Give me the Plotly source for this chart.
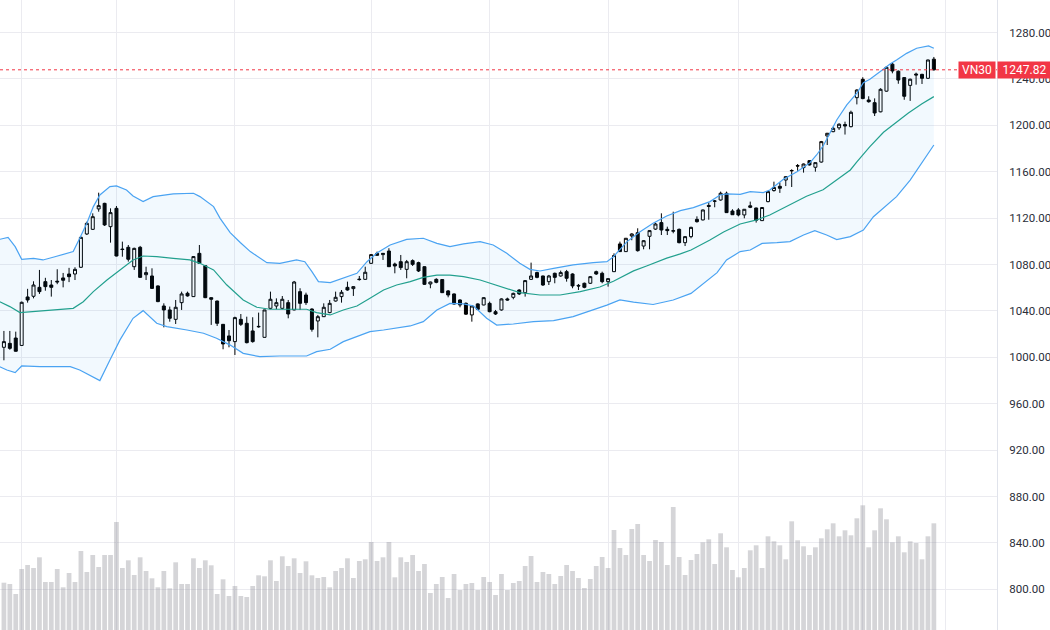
import plotly.graph_objects as go

# ---------------- data ----------------
opens = [1008.6, 1012.0, 1016.6, 1010.2, 1052.0, 1052.6, 1060.3, 1065.2, 1062.3, 1065.6,
         1068.4, 1071.8, 1071.8, 1077.6, 1106.3, 1110.3, 1127.9, 1132.7, 1112.6, 1128.4,
         1093.3, 1094.8, 1078.1, 1094.8, 1071.2, 1070.1, 1061.5, 1044.2, 1040.8, 1032.7,
         1047.1, 1055.2, 1052.3, 1089.6, 1079.0, 1051.4, 1048.5, 1028.4, 1018.4, 1013.5,
         1032.7, 1029.3, 1022.7, 1026.2, 1017.2, 1042.2, 1044.2, 1042.2, 1047.1, 1040.8,
         1056.6, 1053.7, 1041.6, 1031.3, 1035.0, 1038.5, 1048.5, 1052.3, 1060.3, 1059.2,
         1067.4, 1067.2, 1081.0, 1089.6, 1088.5, 1091.6, 1080.4, 1082.4, 1075.8, 1083.3,
         1081.6, 1078.1, 1063.2, 1067.2, 1067.0, 1057.2, 1054.6, 1049.4, 1046.5, 1036.5,
         1046.0, 1045.1, 1046.5, 1039.3, 1040.8, 1050.3, 1051.7, 1058.0, 1055.7, 1067.2,
         1073.0, 1070.1, 1065.2, 1072.4, 1070.1, 1073.8, 1071.8, 1062.0, 1063.8, 1063.8,
         1073.8, 1072.4, 1065.2, 1073.8, 1097.7, 1091.1, 1104.6, 1107.4, 1095.9, 1104.3,
         1110.5, 1116.1, 1110.3, 1108.7, 1110.3, 1098.8, 1104.0, 1118.9, 1118.4, 1130.9,
         1134.5, 1135.6, 1141.4, 1126.1, 1127.0, 1122.7, 1130.6, 1128.7, 1117.8, 1134.2,
         1143.7, 1147.4, 1152.8, 1160.7, 1165.2, 1163.5, 1169.5, 1163.8, 1168.3, 1190.8,
         1194.5, 1197.8, 1200.6, 1198.8, 1223.8, 1239.6, 1221.8, 1219.5, 1211.6, 1229.4,
         1252.7, 1246.6, 1241.1, 1234.4, 1244.2, 1243.9, 1240.5, 1257.0]

highs = [1022.7, 1022.7, 1022.1, 1048.0, 1059.0, 1065.5, 1075.3, 1068.5, 1066.6, 1075.9,
         1072.7, 1077.1, 1077.6, 1104.0, 1116.9, 1124.1, 1141.9, 1133.2, 1128.4, 1130.4,
         1099.7, 1096.8, 1094.5, 1096.0, 1078.1, 1076.7, 1062.0, 1046.5, 1043.7, 1049.4,
         1056.6, 1056.6, 1087.3, 1096.8, 1079.5, 1051.6, 1048.8, 1028.6, 1023.5, 1035.0,
         1037.3, 1035.0, 1034.5, 1038.5, 1040.9, 1056.6, 1050.8, 1052.8, 1049.4, 1065.8,
         1059.5, 1055.7, 1042.2, 1036.5, 1046.5, 1049.4, 1056.6, 1058.0, 1065.2, 1061.2,
         1070.1, 1078.1, 1089.0, 1091.1, 1089.8, 1094.0, 1081.6, 1088.2, 1083.9, 1084.4,
         1082.4, 1078.4, 1065.2, 1068.1, 1067.2, 1058.0, 1055.0, 1050.0, 1047.3, 1045.1,
         1046.5, 1051.7, 1048.0, 1040.8, 1050.8, 1051.4, 1055.7, 1058.6, 1066.6, 1081.6,
         1073.8, 1070.4, 1071.0, 1073.0, 1074.7, 1075.3, 1072.4, 1063.2, 1064.4, 1070.1,
         1074.7, 1073.8, 1068.0, 1089.6, 1099.7, 1102.8, 1106.9, 1111.2, 1101.0, 1109.6,
         1116.0, 1124.1, 1112.6, 1125.5, 1111.0, 1104.4, 1112.6, 1121.5, 1127.4, 1133.4,
         1135.6, 1142.8, 1142.8, 1127.6, 1128.6, 1127.8, 1134.2, 1129.0, 1129.3, 1143.2,
         1151.4, 1150.7, 1155.9, 1162.1, 1166.6, 1167.0, 1170.0, 1167.9, 1186.5, 1193.4,
         1198.8, 1201.7, 1203.1, 1212.6, 1231.0, 1241.4, 1225.0, 1223.2, 1231.9, 1251.1,
         1253.8, 1247.3, 1241.4, 1240.2, 1245.4, 1244.4, 1256.6, 1258.9]

lows = [997.4, 1006.5, 1004.9, 1009.8, 1047.1, 1050.8, 1054.6, 1057.4, 1052.3, 1063.0,
        1060.3, 1064.8, 1066.6, 1077.0, 1105.4, 1109.7, 1125.5, 1113.2, 1098.8, 1087.0,
        1086.7, 1082.5, 1075.3, 1068.5, 1066.6, 1059.0, 1047.5, 1025.8, 1030.7, 1028.7,
        1040.8, 1052.3, 1052.0, 1080.7, 1051.0, 1027.9, 1027.0, 1006.9, 1008.6, 1002.0,
        1027.0, 1012.0, 1012.6, 1025.5, 1017.0, 1041.4, 1041.4, 1041.4, 1033.6, 1040.5,
        1040.8, 1045.1, 1022.1, 1017.2, 1034.8, 1038.0, 1048.0, 1047.1, 1057.4, 1052.9,
        1066.1, 1066.8, 1080.4, 1087.5, 1083.9, 1078.0, 1072.4, 1075.3, 1068.1, 1078.7,
        1073.5, 1062.3, 1059.5, 1063.8, 1055.5, 1051.7, 1045.5, 1043.1, 1036.5, 1030.7,
        1040.8, 1044.8, 1038.8, 1036.5, 1040.2, 1048.8, 1050.0, 1053.7, 1052.3, 1066.6,
        1068.1, 1061.5, 1062.3, 1063.8, 1069.5, 1065.2, 1059.5, 1058.0, 1059.5, 1063.2,
        1071.0, 1063.8, 1060.9, 1073.5, 1091.0, 1090.8, 1100.9, 1091.1, 1093.1, 1093.1,
        1109.8, 1105.4, 1105.4, 1106.9, 1098.2, 1095.9, 1102.6, 1116.1, 1118.0, 1118.6,
        1129.3, 1135.0, 1124.5, 1122.7, 1121.5, 1119.8, 1128.6, 1116.1, 1117.5, 1133.6,
        1142.8, 1141.7, 1147.6, 1146.8, 1160.8, 1159.2, 1165.3, 1160.0, 1167.8, 1183.0,
        1194.0, 1196.0, 1192.0, 1198.2, 1218.0, 1222.5, 1219.5, 1208.0, 1211.2, 1229.0,
        1244.8, 1235.8, 1222.0, 1221.0, 1235.0, 1235.6, 1240.0, 1247.1]

closes = [1013.5, 1007.7, 1005.2, 1047.4, 1049.4, 1062.3, 1056.6, 1060.9, 1060.3, 1065.0,
          1066.4, 1069.5, 1075.8, 1103.4, 1115.5, 1121.2, 1130.7, 1114.1, 1124.7, 1087.3,
          1092.9, 1084.5, 1093.9, 1068.9, 1073.0, 1059.4, 1048.0, 1040.8, 1033.6, 1043.1,
          1054.6, 1052.9, 1086.8, 1081.0, 1051.4, 1050.0, 1029.3, 1011.5, 1014.3, 1034.2,
          1028.4, 1012.6, 1013.5, 1026.6, 1040.8, 1050.0, 1047.1, 1050.0, 1037.3, 1064.9,
          1046.5, 1047.1, 1024.1, 1035.0, 1043.1, 1046.5, 1051.7, 1056.0, 1058.0, 1060.9,
          1067.0, 1073.3, 1088.5, 1087.9, 1089.6, 1078.1, 1078.7, 1077.3, 1082.4, 1080.1,
          1074.4, 1062.9, 1064.9, 1064.6, 1055.7, 1053.7, 1045.9, 1045.1, 1037.2, 1044.2,
          1041.3, 1051.4, 1039.3, 1037.3, 1050.3, 1049.4, 1055.1, 1054.6, 1066.1, 1070.1,
          1068.9, 1062.3, 1070.1, 1068.9, 1073.0, 1068.1, 1061.5, 1061.5, 1060.3, 1069.5,
          1071.8, 1065.2, 1067.8, 1087.7, 1091.1, 1102.6, 1106.3, 1091.9, 1100.5, 1109.2,
          1114.9, 1109.7, 1109.2, 1109.1, 1098.8, 1104.0, 1112.0, 1116.9, 1127.0, 1130.1,
          1134.7, 1141.4, 1124.7, 1122.9, 1122.7, 1127.6, 1129.3, 1118.1, 1129.1, 1142.8,
          1146.4, 1145.7, 1155.7, 1161.0, 1164.9, 1166.6, 1165.8, 1167.8, 1185.9, 1193.1,
          1197.4, 1200.9, 1199.4, 1211.2, 1230.4, 1223.0, 1220.3, 1210.6, 1231.0, 1250.0,
          1246.8, 1239.0, 1225.0, 1239.7, 1243.4, 1240.5, 1256.3, 1247.82]

volumes = [47.3, 46.0, 36.0, 61.0, 65.0, 62.0, 72.7, 48.0, 48.0, 61.0,
           42.7, 57.0, 48.0, 79.0, 58.0, 75.0, 63.0, 75.0, 75.0, 108.0,
           62.0, 69.7, 55.0, 72.7, 59.0, 51.7, 42.7, 59.0, 41.7, 67.7,
           46.0, 46.0, 71.7, 62.0, 69.7, 64.7, 36.0, 50.7, 34.0, 44.0,
           34.0, 33.0, 44.0, 54.7, 53.7, 69.7, 49.0, 73.7, 64.0, 71.7,
           57.0, 68.7, 54.7, 52.0, 53.0, 42.7, 59.0, 62.0, 71.7, 52.0,
           69.0, 70.7, 88.0, 69.0, 72.7, 88.0, 52.7, 72.7, 68.0, 75.0,
           59.0, 66.0, 37.0, 46.0, 53.0, 32.0, 56.0, 40.0, 46.0, 47.0,
           40.0, 53.0, 48.0, 35.0, 56.0, 40.0, 47.0, 49.0, 64.0, 74.0,
           48.0, 58.0, 56.0, 46.0, 54.0, 65.0, 59.0, 52.0, 42.0, 51.0,
           64.0, 73.0, 62.0, 100.0, 82.0, 75.0, 101.0, 106.0, 75.0, 69.0,
           90.0, 88.0, 65.0, 123.0, 73.0, 55.0, 70.0, 76.0, 87.7, 90.7,
           66.0, 96.7, 82.7, 60.0, 52.7, 62.0, 79.7, 84.7, 62.0, 93.7,
           88.7, 84.7, 70.7, 108.7, 89.7, 83.7, 75.0, 82.7, 91.7, 100.7,
           106.7, 93.7, 99.7, 94.7, 111.7, 124.7, 82.7, 99.7, 121.7, 110.7,
           87.7, 93.7, 77.7, 88.7, 87.0, 70.7, 93.7, 106.7]

bars = list(range(len(closes)))

# Bollinger band lines (bar position, value)
upper_x = [-0.7, 0.7, 1.9, 3.0, 5.0, 6.6, 8.3, 10.6, 11.7, 12.8, 14.0, 15.1, 16.2, 17.9, 19.0,
           20.7, 21.8, 23.5, 25.2, 28.6, 32.0, 33.1, 35.4, 36.5, 38.2, 39.9, 41.6, 44.4, 46.6,
           49.4, 50.8, 52.0, 53.1, 55.1, 57.3, 59.6, 61.3, 62.9, 65.2, 68.0, 70.8, 73.1, 75.3,
           77.6, 80.4, 82.6, 84.9, 87.1, 88.8, 90.5, 92.8, 96.1, 99.5, 101.8, 102.9, 105.2,
           107.4, 109.6, 111.9, 114.2, 116.4, 119.2, 120.9, 122.0, 124.3, 126.0, 128.2, 129.3,
           131.6, 133.9, 136.1, 137.2, 138.4, 139.5, 140.6, 142.3, 144.0, 145.1, 146.2, 147.9,
           149.6, 150.7, 152.4, 154.1, 156.1, 157.0]
upper_v = [1101.7, 1103.4, 1095.4, 1084.5, 1085.3, 1083.9, 1086.2, 1089.1, 1091.1, 1102.6, 1115.5,
           1129.9, 1139.9, 1147.1, 1147.7, 1144.2, 1139.1, 1134.2, 1138.5, 1140.8, 1141.4, 1138.5,
           1129.9, 1119.8, 1107.5, 1099.0, 1091.1, 1081.6, 1081.0, 1083.9, 1082.4, 1073.8, 1065.2,
           1064.3, 1068.1, 1072.4, 1082.4, 1089.6, 1096.8, 1101.7, 1102.6, 1098.2, 1095.4, 1097.7,
           1099.7, 1096.8, 1089.6, 1081.0, 1075.8, 1074.4, 1076.7, 1079.6, 1081.6, 1082.4, 1086.7,
           1099.7, 1108.3, 1115.5, 1121.8, 1126.4, 1129.0, 1134.2, 1139.9, 1140.8, 1140.5, 1142.8,
           1141.9, 1144.2, 1153.4, 1160.0, 1167.8, 1174.4, 1183.0, 1193.5, 1204.6, 1217.5, 1227.6,
           1236.8, 1239.6, 1246.2, 1252.9, 1256.3, 1262.0, 1266.4, 1268.4, 1266.4]

basis_x = [-0.7, 1.0, 2.7, 5.0, 7.8, 11.7, 13.4, 15.1, 17.4, 19.6, 21.8, 23.5, 25.8, 28.6, 31.4,
           33.1, 35.4, 37.6, 38.2, 40.4, 42.7, 44.9, 47.7, 51.1, 52.8, 55.1, 57.3, 59.6, 61.8,
           64.1, 66.3, 68.6, 70.8, 73.1, 75.3, 77.6, 80.4, 83.8, 87.1, 90.5, 93.9, 97.3, 100.6,
           102.9, 106.3, 108.5, 111.9, 114.2, 116.0, 119.2, 121.5, 124.3, 127.1, 129.3, 132.7,
           135.5, 138.3, 140.6, 142.9, 144.0, 146.2, 148.5, 150.7, 152.7, 155.0, 157.0]
basis_v = [1047.9, 1043.7, 1038.5, 1039.3, 1040.8, 1042.2, 1047.9, 1056.6, 1066.6, 1075.3, 1083.9,
           1087.3, 1086.7, 1085.3, 1083.9, 1081.0, 1075.3, 1062.5, 1059.5, 1049.4, 1043.1, 1041.4,
           1041.4, 1041.4, 1038.5, 1036.5, 1040.8, 1044.2, 1050.8, 1058.0, 1062.3, 1065.2, 1068.9,
           1070.9, 1070.9, 1069.5, 1066.6, 1060.9, 1055.7, 1053.7, 1053.7, 1056.6, 1060.6, 1065.5,
           1074.5, 1078.7, 1085.5, 1089.1, 1092.5, 1101.1, 1108.0, 1114.9, 1118.4, 1122.7, 1131.3,
           1138.8, 1144.4, 1153.0, 1161.5, 1168.5, 1181.6, 1194.0, 1203.0, 1210.5, 1218.5, 1224.7]

lower_x = [-0.7, 0.5, 1.9, 3.0, 6.1, 11.2, 12.8, 16.2, 17.9, 19.6, 21.8, 23.5, 25.8, 27.5, 30.9,
           33.7, 35.9, 38.2, 40.4, 43.2, 46.6, 51.1, 52.8, 55.1, 57.3, 59.6, 61.8, 64.1, 66.3,
           68.6, 70.8, 73.1, 75.3, 77.6, 79.3, 81.5, 83.2, 86.0, 89.4, 92.8, 96.1, 99.5, 101.8,
           104.0, 106.3, 109.6, 113.0, 116.0, 118.2, 120.4, 122.0, 124.3, 126.0, 128.0, 130.5,
           132.7, 135.0, 136.9, 138.9, 140.6, 142.9, 145.1, 146.8, 148.5, 150.7, 153.0, 154.7,
           156.4, 157.0]
lower_v = [991.9, 989.0, 986.8, 992.5, 991.9, 991.9, 989.0, 979.9, 997.7, 1015.0, 1033.6, 1040.2,
           1029.3, 1026.4, 1023.5, 1020.7, 1016.4, 1010.5, 1003.4, 1000.5, 1001.1, 1001.1, 1004.9,
           1006.9, 1013.5, 1017.8, 1022.1, 1023.5, 1025.0, 1027.0, 1030.7, 1040.8, 1046.5, 1046.0,
           1044.2, 1033.6, 1027.8, 1028.7, 1030.7, 1031.6, 1035.0, 1040.8, 1045.0, 1049.4, 1047.5,
           1045.5, 1049.4, 1055.1, 1063.8, 1073.0, 1083.9, 1091.1, 1092.5, 1098.2, 1098.8, 1099.7,
           1105.4, 1109.2, 1105.4, 1101.5, 1104.0, 1109.7, 1121.2, 1128.4, 1138.5, 1152.8, 1165.8,
           1178.7, 1183.0]

month_starts = [3, 19, 39, 62, 82, 102, 124, 145, 159]   # vertical grid lines
price_ticks = [800, 840, 880, 920, 960, 1000, 1040, 1080, 1120, 1160, 1200, 1240, 1280]
symbol = "VN30"
last_price = closes[-1]

# ---------------- styling ----------------
FONT = "Roboto, Arial, sans-serif"
GRID = "#ebebf0"
RED = "#f23645"
BLUE = "#4aa3f2"
TEAL = "#22a08e"
INK = "#000000"
LABEL = "#2a2e39"

fig = go.Figure()

fig.add_trace(go.Bar(
    x=bars, y=volumes, yaxis="y",
    marker=dict(color="rgba(145,145,152,0.38)", line=dict(width=0)),
    hoverinfo="skip", showlegend=False))

fig.add_trace(go.Scatter(
    x=upper_x, y=upper_v, yaxis="y2", mode="lines",
    line=dict(color=BLUE, width=1.2), hoverinfo="skip", showlegend=False))
fig.add_trace(go.Scatter(
    x=lower_x, y=lower_v, yaxis="y2", mode="lines",
    line=dict(color=BLUE, width=1.2), fill="tonexty",
    fillcolor="rgba(33,150,243,0.06)", hoverinfo="skip", showlegend=False))
fig.add_trace(go.Scatter(
    x=basis_x, y=basis_v, yaxis="y2", mode="lines",
    line=dict(color=TEAL, width=1.2), hoverinfo="skip", showlegend=False))

fig.add_trace(go.Candlestick(
    x=bars, open=opens, high=highs, low=lows, close=closes, yaxis="y2",
    increasing=dict(line=dict(color=INK, width=1), fillcolor="#ffffff"),
    decreasing=dict(line=dict(color=INK, width=1), fillcolor=INK),
    whiskerwidth=0, showlegend=False))

fig.add_shape(type="line", xref="paper", x0=0, x1=1, yref="y2",
              y0=last_price, y1=last_price,
              line=dict(color=RED, width=1, dash="dot"))

fig.add_annotation(xref="paper", x=0.9985, xanchor="right", yref="y2", y=last_price,
                   yanchor="middle", text=symbol, showarrow=False,
                   font=dict(family=FONT, size=12, color="#ffffff"),
                   bgcolor=RED, borderpad=1, width=34, height=14)
fig.add_annotation(xref="paper", x=1.0003, xanchor="left", yref="y2", y=last_price,
                   yanchor="middle", text=f"{last_price:.2f}", showarrow=False,
                   font=dict(family=FONT, size=12, color="#ffffff"),
                   bgcolor=RED, borderpad=1, width=51, height=14)

fig.update_layout(
    width=1050, height=630,
    margin=dict(l=0, r=53, t=0, b=0),
    paper_bgcolor="#ffffff", plot_bgcolor="#ffffff",
    font=dict(family=FONT, size=11.5, color=LABEL),
    bargap=0.2, boxgap=0.28,
    showlegend=False,
    xaxis=dict(range=[-0.66, 167.66], tickvals=month_starts, showticklabels=False,
               showgrid=True, gridcolor=GRID, gridwidth=1, zeroline=False,
               showline=False, ticks="", rangeslider=dict(visible=False), fixedrange=True),
    yaxis=dict(range=[0, 630], visible=False, showgrid=False, fixedrange=True),
    yaxis2=dict(range=[764.9, 1308.0], overlaying="y", side="right",
                tickvals=price_ticks, tickformat=".2f", showgrid=True, gridcolor=GRID,
                gridwidth=1, zeroline=False, showline=True, linecolor="#e0e3eb",
                linewidth=1, ticks="", ticklabelstandoff=9,
                tickfont=dict(family=FONT, size=11.5, color=LABEL), fixedrange=True),
)

fig.write_html("out.html")
